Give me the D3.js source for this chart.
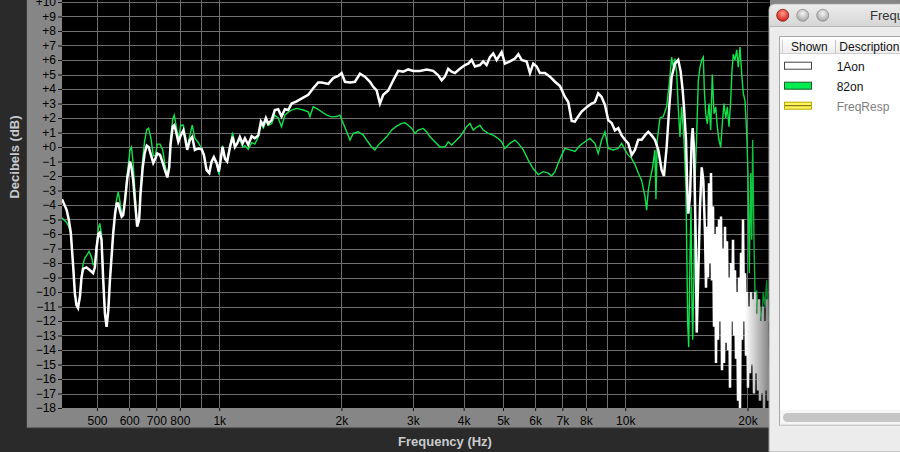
<!DOCTYPE html>
<html><head><meta charset="utf-8">
<script src="https://cdn.jsdelivr.net/npm/d3@7/dist/d3.min.js"></script>
<style>html,body{margin:0;padding:0;background:#2a2a2a;overflow:hidden}svg{display:block}</style>
</head><body><div id="chart"></div>
<script>
// ---- data ----
const whiteFreq = [410,421,426,431,437,441,445,449,454,458,462,471,478,485,489,494,499,504,508,513,518,523,528,533,538,543,548,554,559,564,569,575,580,586,594,603,608,614,620,628,635,640,648,655,663,670,679,688,696,704,715,726,735,745,753,759,768,775,783,793,804,816,823,834,847,858,871,888,905,917,931,945,958,970,985,998,1008,1019,1033,1046,1063,1079,1093,1107,1124,1142,1157,1179,1202,1224,1248,1267,1284,1303,1320,1346,1371,1397,1424,1451,1479,1508,1551,1610,1657,1704,1753,1787,1856,1909,1964,2002,2040,2099,2159,2222,2285,2351,2395,2442,2488,2535,2608,2683,2760,2839,2921,3005,3121,3242,3366,3463,3531,3597,3664,3736,3806,3916,4029,4105,4185,4264,4386,4469,4556,4642,4730,4823,4961,5054,5200,5350,5452,5557,5717,5826,5935,6051,6165,6342,6525,6713,6906,7104,7238,7379,7518,7591,7809,8033,8264,8420,8579,8746,8913,9081,9258,9432,9611,9797,9984,10172,10370,10566,10765,10975,11183,11394,11614,11834,12060,12294,12454,12647,12835,13011,13256,13506,13694,13850,13953,14112,14218,14299,14438,14577,14660,14769,14913,14999,15134,15281,15430,15569,
  15720,15809,15899,15990,16081,16172,16264,16357,16450,16543,16637,16732,16827,16923,17019,17116,17213,17311,17410,17509,17609,17709,17809,17911,18013,18115,18218,18322,18426,18531,18636,18742,18849,18956,19064,19172,19281,19391,19501,19612,19724,19836,19949,20062,20176,20291,20406,20522,20639,20757,20875,20993,21113,21233,21354,21475,21597,21720,21844,21968,22093,22219,22345,22472];
const whiteDb = [-3.6,-4.35,-5.0,-5.9,-8.3,-10.1,-10.9,-11.1,-10.3,-9.0,-8.4,-8.3,-8.45,-8.6,-8.7,-8.3,-6.9,-6.0,-5.9,-6.4,-9.2,-11.5,-12.4,-11.3,-9.2,-7.6,-6.0,-4.6,-3.9,-3.9,-4.35,-4.8,-4.7,-3.7,-2.1,-1.0,-1.4,-2.3,-3.7,-5.5,-5.0,-3.2,-1.4,-0.45,0.1,0.0,-0.55,-1.1,-0.8,-0.45,-0.55,-1.1,-1.6,-2.1,-1.4,0.2,1.4,1.5,1.05,0.35,0.8,1.15,0.7,-0.2,0.5,0.7,-0.2,-0.1,-0.15,-0.55,-1.6,-1.8,-1.0,-0.7,-1.1,-1.7,-0.9,0.0,-0.8,-1.0,0.0,0.7,0.0,0.25,0.7,0.25,0.6,0.15,0.75,0.6,0.8,1.75,1.5,2.0,1.6,1.85,2.55,2.6,2.1,2.6,2.55,3.0,3.15,3.4,3.6,4.05,4.45,4.45,4.35,4.75,4.9,5.1,4.5,4.45,4.5,5.05,4.85,4.5,4.15,3.9,3.0,3.6,3.9,4.6,5.25,5.2,5.35,5.25,5.25,5.35,5.25,4.95,4.6,4.85,5.4,5.2,5.1,5.4,5.65,5.75,6.0,5.55,5.65,5.9,5.65,6.2,6.45,6.0,6.55,5.75,5.9,6.1,6.4,6.0,5.9,5.1,5.75,5.55,5.1,5.1,4.85,4.5,4.2,3.45,3.1,1.8,1.75,1.95,2.45,2.75,3.0,3.1,3.7,3.45,2.9,1.85,1.65,1.15,1.3,0.8,0.5,0.25,-0.55,-0.2,0.5,0.5,0.8,1.05,0.8,0.5,-0.2,-1.6,-2.0,0.0,2.75,4.85,5.75,6.0,5.2,3.9,2.75,0.5,-3.0,-4.6,-3.4,0.5,1.3,-0.2,-6.4,-12.8,-8.7,-4.1,-1.4,-2.3,
  -6.0,-9.7,-5.5,-9.0,-2.5,-8.0,-1.8,-9.2,-4.1,-12.4,-6.0,-14.9,-5.5,-13.3,-5.0,-12.0,-4.8,-15.4,-7.0,-14.9,-5.5,-13.5,-6.5,-14.0,-9.0,-16.6,-8.0,-12.0,-6.4,-13.0,-8.5,-14.6,-10.0,-17.5,-9.0,-18.0,-7.3,-13.3,-5.0,-12.0,-8.7,-14.4,-10.0,-16.6,-11.0,-15.6,-10.0,-15.0,-10.5,-17.0,-10.0,-15.6,-11.5,-16.8,-10.5,-17.5,-12.0,-17.0,-11.0,-18.0,-12.0,-16.8,-10.5,-17.5];

const greenFreq = [410,421,426,431,437,441,445,449,454,458,462,466,471,478,485,489,494,499,504,508,513,518,523,528,533,538,543,548,554,559,564,569,575,580,586,594,603,608,614,620,628,635,640,648,655,663,670,679,688,696,704,715,726,735,745,753,759,768,775,783,793,804,816,823,834,847,858,871,888,905,917,931,945,958,970,985,998,1008,1019,1033,1046,1063,1079,1093,1107,1124,1142,1157,1179,1202,1224,1248,1267,1284,1303,1320,1346,1371,1397,1424,1451,1479,1508,1551,1610,1657,1673,1704,1737,1787,1839,1892,1946,1983,2020,2060,2099,2138,2200,2264,2307,2373,2418,2464,2512,2584,2659,2735,2814,2867,2921,2978,3034,3091,3180,3242,3304,3399,3497,3597,3664,3736,3806,3916,3990,4068,4145,4223,4305,4386,4469,4598,4730,4866,4961,5054,5200,5350,5452,5609,5770,5935,6106,6281,6462,6588,6713,6839,6972,7104,7308,7518,7734,7957,8186,8420,8579,8746,8913,9081,9342,9611,9797,9984,10172,10370,10566,10765,10975,11183,11290,11394,11503,11681,11834,11902,11990,12176,12405,12647,12835,13011,13128,13256,13385,13506,13638,13771,13953,14112,14193,14250,14332,14438,14520,14603,14660,14769,14879,14999,15134,15281,15430,15569,15659,15782,15927,16081,16234,16384,16543,16702,16854,17018,17183,17340,17508,17678,17838,18012,18185,18320,18455,18634,18815,18986,19171,19357,19533,19723,19913,20060,20208,20369,20484,20601,20753,20908,21073,21268,21474,21683,21879,22093,22308,22508];
const greenDb = [-4.9,-5.2,-5.5,-6.0,-8.2,-10.0,-10.8,-11.0,-10.2,-8.9,-8.1,-7.7,-7.5,-7.2,-7.6,-8.1,-8.0,-6.7,-5.6,-5.27,-6.0,-9.0,-11.3,-12.2,-11.2,-9.2,-7.5,-5.9,-4.5,-3.6,-3.1,-3.7,-4.6,-4.6,-3.5,-1.8,-0.2,0.0,-1.2,-3.0,-5.4,-5.0,-3.0,-0.8,0.4,1.2,1.3,0.6,-0.6,-0.6,0.2,0.2,-0.2,-1.2,-2.0,-1.3,0.6,1.9,2.2,1.5,0.5,1.5,1.5,0.9,0.0,0.8,1.5,0.6,0.3,-0.1,-0.5,-1.5,-1.8,-1.0,-0.7,-1.1,-1.9,-0.9,0.1,-0.8,-0.9,0.1,1.0,0.1,0.2,0.5,0.0,0.1,-0.15,0.3,0.2,0.7,1.6,1.3,1.8,1.5,1.6,2.2,2.0,1.4,2.2,2.4,2.55,2.66,2.55,2.43,2.08,2.77,2.66,2.43,2.2,2.08,2.1,2.2,1.63,1.05,0.48,0.94,1.05,0.82,0.48,0.0,-0.2,0.13,0.36,0.7,1.17,1.44,1.63,1.67,1.5,1.28,0.94,1.17,1.28,1.05,0.7,0.36,0.0,0.0,0.36,0.13,0.36,0.7,1.05,1.4,1.63,1.17,1.36,1.5,1.17,0.94,0.82,0.59,0.36,-0.1,0.25,0.48,0.25,-0.2,-0.9,-1.5,-1.9,-1.7,-1.8,-2.0,-1.7,-1.1,-0.56,-0.1,-0.2,-0.3,0.1,0.36,0.59,0.25,-0.45,0.48,1.05,-0.1,-0.2,-0.1,0.25,-0.2,-0.56,-0.8,-1.2,-1.8,-2.3,-3.4,-4.35,-3.0,-2.3,-1.4,-0.2,-3.6,0.48,2.0,2.1,2.77,4.39,6.2,5.5,6.1,5.1,2.77,0.7,2.77,0.48,-3.0,-8.3,-12.2,-13.8,-7.6,-4.1,-11.0,-13.3,-8.7,-1.8,0.93,4.6,5.5,6.0,6.2,3.93,2.3,1.6,3.0,1.17,5.0,2.3,2.77,1.4,0.48,0.0,1.6,3.0,2.0,2.77,1.4,3.2,5.3,6.4,6.0,6.7,5.5,6.9,5.0,3.7,3.2,0.93,-1.8,-8.7,-1.8,-6.4,0.48,-6.4,-11.0,-9.9,-12.7,-11.0,-12.1,-10.0,-11.0,-9.2,-12.1];

const yTicks = d3.range(-18, 11);
const gridFreqs = [500,600,700,800,900,1000,2000,3000,4000,5000,6000,7000,8000,9000,10000,20000];
const xTickValues = [500,600,700,800,1000,2000,3000,4000,5000,6000,7000,8000,10000,20000];
const xTickLabels = ["500","600","700","800","1k","2k","3k","4k","5k","6k","7k","8k","10k","20k"];
const seriesNames = ["1Aon","82on","FreqResp"];
const xTitle = "Frequency (Hz)", yTitle = "Decibels (dB)";

// ---- drawing ----
const W = 900, H = 452;
const svg = d3.select("#chart").append("svg").attr("width", W).attr("height", H);
const defs = svg.append("defs");

svg.append("rect").attr("width", W).attr("height", H).attr("fill", "#2a2a2a");

const x = d3.scaleLog().domain([410, 22700]).range([62, 769.8]);
const y = d3.scaleLinear().domain([-18, 10]).range([408, 2]);

// frame
svg.append("rect").attr("x", 26.5).attr("y", -2).attr("width", 900).attr("height", 430)
  .attr("fill", "#868686").attr("stroke", "#3a3a3a");
svg.append("rect").attr("x", 62).attr("y", 0).attr("width", 708).attr("height", 408).attr("fill", "#000");

defs.append("clipPath").attr("id", "plotclip").append("rect")
  .attr("x", 62).attr("y", 0).attr("width", 708).attr("height", 408);

const plot = svg.append("g").attr("clip-path", "url(#plotclip)");
plot.selectAll("line.h").data(yTicks).join("line").attr("class", "h")
  .attr("x1", 62).attr("x2", 770).attr("y1", d => Math.round(y(d)) + 0.5).attr("y2", d => Math.round(y(d)) + 0.5)
  .attr("stroke", "#6e6e6e").attr("stroke-width", 1);
plot.selectAll("line.v").data(gridFreqs).join("line").attr("class", "v")
  .attr("x1", d => Math.round(x(d)) + 0.5).attr("x2", d => Math.round(x(d)) + 0.5).attr("y1", 0).attr("y2", 408)
  .attr("stroke", "#6e6e6e").attr("stroke-width", 1);

const line = d3.line().x(d => x(d[0])).y(d => y(d[1]));
const greenData = greenFreq.map((f, i) => [f, greenDb[i]]);
const whiteData = whiteFreq.map((f, i) => [f, whiteDb[i]]);
plot.append("path").datum(greenData).attr("d", line).attr("fill", "none")
  .attr("stroke", "#12e34b").attr("stroke-width", 1.4).attr("stroke-linejoin", "miter");
plot.append("path").datum(whiteData).attr("d", line).attr("fill", "none")
  .attr("stroke", "#ffffff").attr("stroke-width", 2.5).attr("stroke-linejoin", "miter");

// panel shadow on the right edge
const sg = defs.append("linearGradient").attr("id", "shade").attr("x1", 0).attr("x2", 1).attr("y1", 0).attr("y2", 0);
sg.append("stop").attr("offset", "0").attr("stop-color", "#000").attr("stop-opacity", 0);
sg.append("stop").attr("offset", "1").attr("stop-color", "#000").attr("stop-opacity", 0.5);
svg.append("rect").attr("x", 745).attr("y", 0).attr("width", 25).attr("height", 408).attr("fill", "url(#shade)");

// axes
const yAxis = svg.append("g").attr("transform", "translate(62,0)")
  .call(d3.axisLeft(y).tickValues(yTicks).tickSize(4).tickPadding(2)
    .tickFormat(d => d >= 0 ? "+" + d : "\u2212" + Math.abs(d)));
const xAxis = svg.append("g").attr("transform", "translate(0,408)")
  .call(d3.axisBottom(x).tickValues(xTickValues).tickSize(3).tickPadding(5)
    .tickFormat((d, i) => xTickLabels[i]));
[yAxis, xAxis].forEach(a => {
  a.select(".domain").remove();
  a.selectAll(".tick line").attr("stroke", "#111");
  a.selectAll(".tick text").attr("fill", "#000").attr("font-family", "Liberation Sans, Arial, sans-serif").attr("font-size", 12);
});

svg.append("text").attr("x", 445).attr("y", 446).attr("text-anchor", "middle")
  .attr("font-family", "Liberation Sans, Arial, sans-serif").attr("font-weight", "bold").attr("font-size", 13)
  .attr("fill", "#c8cbce").text(xTitle);
svg.append("text").attr("transform", "translate(18.5,157) rotate(-90)").attr("text-anchor", "middle")
  .attr("font-family", "Liberation Sans, Arial, sans-serif").attr("font-weight", "bold").attr("font-size", 13)
  .attr("fill", "#c8cbce").text(yTitle);

// ---- legend window ----
const lg = svg.append("g");
const tb = defs.append("linearGradient").attr("id", "titlebar").attr("x1", 0).attr("x2", 0).attr("y1", 0).attr("y2", 1);
tb.append("stop").attr("offset", "0").attr("stop-color", "#ececec");
tb.append("stop").attr("offset", "1").attr("stop-color", "#d6d6d6");
lg.append("path").attr("d", "M769,452 L769,10 Q769,4 775,4 L905,4 L905,452 Z").attr("fill", "#ececec").attr("stroke", "#9a9a9a");
lg.append("path").attr("d", "M769.5,26 L769.5,10 Q769.5,4.5 775,4.5 L905,4.5 L905,26 Z").attr("fill", "url(#titlebar)");
lg.append("line").attr("x1", 769).attr("x2", 905).attr("y1", 26.5).attr("y2", 26.5).attr("stroke", "#b8b8b8");
const rg = defs.append("radialGradient").attr("id", "redbtn").attr("cx", "50%").attr("cy", "35%").attr("r", "60%");
rg.append("stop").attr("offset", "0").attr("stop-color", "#ff9a8e");
rg.append("stop").attr("offset", "1").attr("stop-color", "#d2261c");
const gg = defs.append("radialGradient").attr("id", "graybtn").attr("cx", "50%").attr("cy", "35%").attr("r", "60%");
gg.append("stop").attr("offset", "0").attr("stop-color", "#f4f4f4");
gg.append("stop").attr("offset", "1").attr("stop-color", "#a9a9a9");
[[782.7, "url(#redbtn)", "#8a1a12"], [802.7, "url(#graybtn)", "#8c8c8c"], [822.7, "url(#graybtn)", "#8c8c8c"]].forEach(b => {
  lg.append("circle").attr("cx", b[0]).attr("cy", 15.3).attr("r", 6).attr("fill", b[1]).attr("stroke", b[2]).attr("stroke-width", 0.8);
});
lg.append("text").attr("x", 870).attr("y", 20).attr("font-family", "Liberation Sans, Arial, sans-serif")
  .attr("font-size", 13).attr("fill", "#333").text("Frequency Response");

lg.append("rect").attr("x", 779.5).attr("y", 36.5).attr("width", 130).attr("height", 388.5).attr("fill", "#fff").attr("stroke", "#a8a8a8");
const hg = defs.append("linearGradient").attr("id", "hdr").attr("x1", 0).attr("x2", 0).attr("y1", 0).attr("y2", 1);
hg.append("stop").attr("offset", "0").attr("stop-color", "#ffffff");
hg.append("stop").attr("offset", "1").attr("stop-color", "#ededed");
lg.append("rect").attr("x", 780).attr("y", 37).attr("width", 125).attr("height", 16.5).attr("fill", "url(#hdr)");
lg.append("line").attr("x1", 780).attr("x2", 905).attr("y1", 53.5).attr("y2", 53.5).attr("stroke", "#cfcfcf");
lg.append("line").attr("x1", 782.5).attr("x2", 782.5).attr("y1", 40).attr("y2", 53).attr("stroke", "#d0d0d0");
lg.append("line").attr("x1", 835.5).attr("x2", 835.5).attr("y1", 40).attr("y2", 53).attr("stroke", "#c4c4c4");
const lf = "Liberation Sans, Arial, sans-serif";
lg.append("text").attr("x", 791).attr("y", 51).attr("font-family", lf).attr("font-size", 12).attr("fill", "#111").text("Shown");
lg.append("text").attr("x", 839.3).attr("y", 51).attr("font-family", lf).attr("font-size", 12).attr("fill", "#111").text("Description");

const swFill = ["#ffffff", "#00ec4f", "#fff45a"];
const swStroke = ["#444", "#1a5a2a", "#b8a800"];
const txtCol = ["#111", "#111", "#808080"];
seriesNames.forEach((n, i) => {
  const yy = 61.7 + i * 20;
  lg.append("rect").attr("x", 784.5).attr("y", yy + 0.5).attr("width", 27).attr("height", 7)
    .attr("fill", swFill[i]).attr("stroke", swStroke[i]);
  if (i === 2) lg.append("line").attr("x1", 785).attr("x2", 811).attr("y1", yy + 4).attr("y2", yy + 4).attr("stroke", "#6a6000").attr("stroke-width", 1);
  lg.append("text").attr("x", 836.7).attr("y", yy + 9).attr("font-family", lf).attr("font-size", 12)
    .attr("fill", txtCol[i]).text(n);
});
lg.append("rect").attr("x", 780).attr("y", 410).attr("width", 125).attr("height", 14.5).attr("fill", "#f6f6f6");
lg.append("rect").attr("x", 783).attr("y", 413).attr("width", 130).attr("height", 9).attr("rx", 4.5).attr("fill", "#c6c6c6");
</script>
</body></html>
